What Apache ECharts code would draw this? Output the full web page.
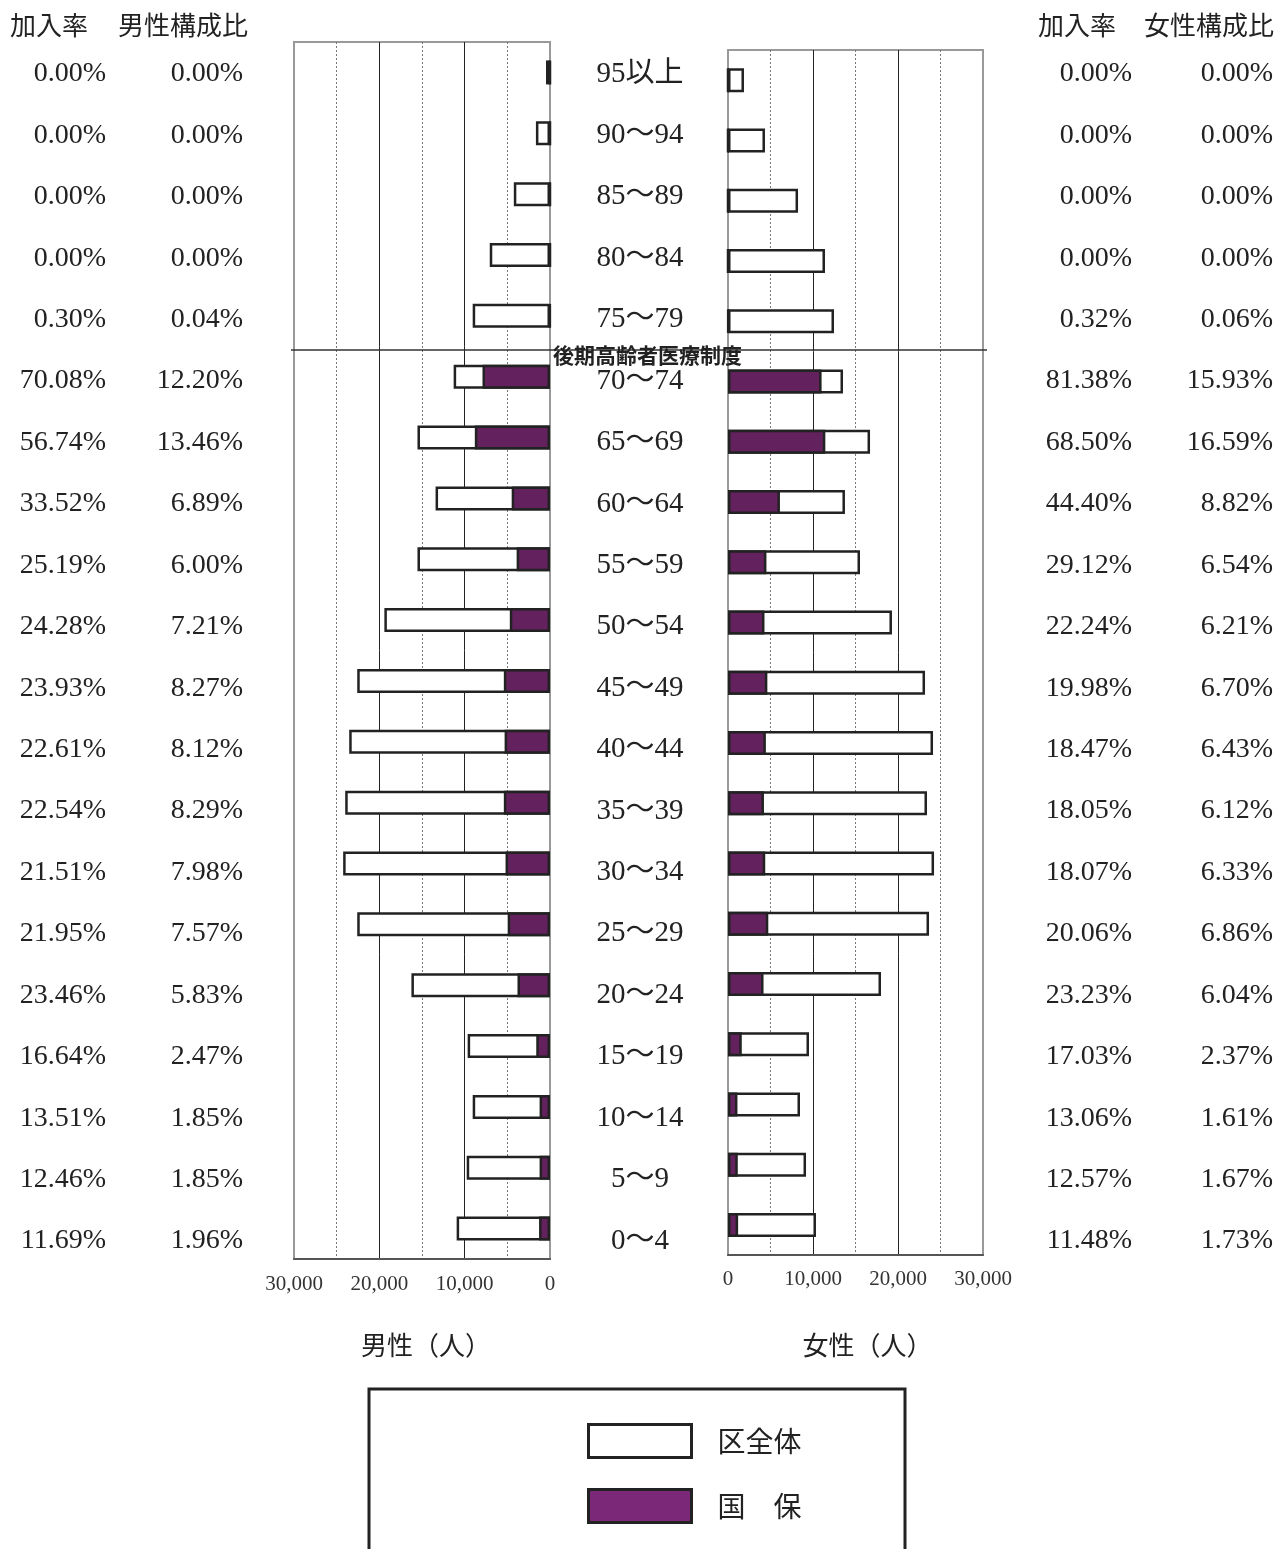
<!DOCTYPE html>
<html><head><meta charset="utf-8">
<script src="https://cdn.jsdelivr.net/npm/echarts@6/dist/echarts.min.js"></script>
<style>html,body{margin:0;padding:0;background:#fff}#c{width:1277px;height:1549px}</style>
</head><body><div id="c"></div>
<script>
const ages = ['95以上','90～94','85～89','80～84','75～79','70～74','65～69','60～64','55～59','50～54','45～49','40～44','35～39','30～34','25～29','20～24','15～19','10～14','5～9','0～4'];
const maleTotal   = [470,1650,4240,7060,9060,11290,15530,13410,15530,19410,22590,23530,24000,24240,22590,16240,9650,9060,9760,10940];
const maleKokuho  = [0,0,0,0,27,7910,8810,4490,3910,4710,5410,5320,5410,5210,4960,3810,1610,1220,1220,1280];
const femaleTotal = [1880,4350,8240,11410,12470,13530,16710,13760,15530,19290,23180,24120,23410,24240,23650,18000,9530,8470,9180,10350];
const femaleKokuho= [0,0,0,0,40,11010,11450,6110,4520,4290,4630,4455,4230,4380,4740,4180,1620,1110,1150,1190];
const maleRate    = ['0.00%','0.00%','0.00%','0.00%','0.30%','70.08%','56.74%','33.52%','25.19%','24.28%','23.93%','22.61%','22.54%','21.51%','21.95%','23.46%','16.64%','13.51%','12.46%','11.69%'];
const maleRatio   = ['0.00%','0.00%','0.00%','0.00%','0.04%','12.20%','13.46%','6.89%','6.00%','7.21%','8.27%','8.12%','8.29%','7.98%','7.57%','5.83%','2.47%','1.85%','1.85%','1.96%'];
const femaleRate  = ['0.00%','0.00%','0.00%','0.00%','0.32%','81.38%','68.50%','44.40%','29.12%','22.24%','19.98%','18.47%','18.05%','18.07%','20.06%','23.23%','17.03%','13.06%','12.57%','11.48%'];
const femaleRatio = ['0.00%','0.00%','0.00%','0.00%','0.06%','15.93%','16.59%','8.82%','6.54%','6.21%','6.70%','6.43%','6.12%','6.33%','6.86%','6.04%','2.37%','1.61%','1.67%','1.73%'];
const xTicks = [0,10000,20000,30000];

const FONT = "'Liberation Serif','Noto Sans CJK JP',serif";
const CJK = "'Noto Sans CJK JP',sans-serif";
const PURPLE = '#63215E';
const TXT = '#222';

function valAxis(grid, inverse, name, gap, margin, shift) {
  return {
    type:'value', gridIndex:grid, inverse:inverse, min:xTicks[0], max:xTicks[xTicks.length-1], interval:10000,
    name:name, nameLocation:'middle', nameGap:gap,
    nameTextStyle:{fontFamily:CJK, fontSize:26, color:TXT, padding:[0,0,0,shift]},
    axisLine:{show:true, onZero:false, lineStyle:{color:'#555', width:2}},
    axisTick:{show:false},
    axisLabel:{show:true, margin:margin, fontFamily:FONT, fontSize:21, color:'#333', showMinLabel:true, showMaxLabel:true,
      formatter:v=>v.toLocaleString('en-US')},
    splitLine:{show:true, showMinLine:false, showMaxLine:false, lineStyle:{color:'#222', width:1}},
    minorTick:{show:false, splitNumber:2},
    minorSplitLine:{show:true, lineStyle:{color:'#777', width:1, type:[2,2]}}
  };
}
function catAxis(grid) {
  return {type:'category', gridIndex:grid, inverse:true, data:ages, show:false};
}
function textAxis(arr, position, offset, align, size) {
  return {
    type:'category', gridIndex:2, inverse:true, data:ages, position:position, offset:offset,
    axisLine:{show:false}, axisTick:{show:false}, splitLine:{show:false},
    axisLabel:{show:true, margin:0, align:align, fontFamily:FONT, fontSize:size||28, color:TXT,
      interval:0, formatter:(v,i)=>arr[i]}
  };
}
function legendBox(name, top) {
  return {
    left:587, top:top, orient:'vertical', padding:0,
    itemWidth:103, itemHeight:33,
    textStyle:{fontFamily:CJK, fontSize:28, color:TXT, padding:[0,0,0,21]},
    itemStyle:{borderWidth:3, borderColor:'#222'},
    data:[{name:name, icon:'rect'}],
    selectedMode:false
  };
}

const chart = echarts.init(document.getElementById('c'));
const lg1 = legendBox('区全体', 1423); lg1.data[0].itemStyle = {color:'#fff'};
const lg2 = legendBox('国　保', 1488); lg2.data[0].itemStyle = {color:'#7B2879'};
chart.setOption({
  animation:false,
  backgroundColor:'#fff',
  grid:[
    {left:294, top:42, width:256, height:1217, show:true, borderColor:'#999', borderWidth:2},
    {left:728, top:50, width:255, height:1205, show:true, borderColor:'#999', borderWidth:2},
    {left:640, top:43.3, width:40, height:1228.4, show:false}
  ],
  xAxis:[
    valAxis(0, true, '男性（人）', 73, 15, 8),
    valAxis(1, false, '女性（人）', 77, 14, 24),
    {type:'value', gridIndex:2, show:false}
  ],
  yAxis:[
    catAxis(0), catAxis(1),
    textAxis(ages, 'left', 0, 'center', 29),
    textAxis(maleRate, 'left', 534, 'right', 28),
    textAxis(maleRatio, 'left', 397, 'right', 28),
    textAxis(femaleRate, 'right', 452, 'right', 28),
    textAxis(femaleRatio, 'right', 593, 'right', 28)
  ],
  legend:[lg1, lg2],
  series:[
    {name:'区全体', type:'bar', xAxisIndex:0, yAxisIndex:0, data:maleTotal, barWidth:24,
      itemStyle:{color:'#fff', borderColor:'#222', borderWidth:2.5}},
    {name:'国　保', type:'bar', xAxisIndex:0, yAxisIndex:0, data:maleKokuho, barWidth:24, barGap:'-100%',
      itemStyle:{color:PURPLE, borderColor:'#222', borderWidth:2.5}},
    {name:'区全体', type:'bar', xAxisIndex:1, yAxisIndex:1, data:femaleTotal, barWidth:24,
      itemStyle:{color:'#fff', borderColor:'#222', borderWidth:2.5}},
    {name:'国　保', type:'bar', xAxisIndex:1, yAxisIndex:1, data:femaleKokuho, barWidth:24, barGap:'-100%',
      itemStyle:{color:PURPLE, borderColor:'#222', borderWidth:2.5}}
  ],
  graphic:[
    {type:'text', left:10, top:12, style:{text:'加入率', font:"26px 'Noto Sans CJK JP'", fill:TXT}},
    {type:'text', left:118, top:12, style:{text:'男性構成比', font:"26px 'Noto Sans CJK JP'", fill:TXT}},
    {type:'text', left:1038, top:12, style:{text:'加入率', font:"26px 'Noto Sans CJK JP'", fill:TXT}},
    {type:'text', left:1144, top:12, style:{text:'女性構成比', font:"26px 'Noto Sans CJK JP'", fill:TXT}},
    {type:'line', shape:{x1:291, y1:350, x2:987, y2:350}, style:{stroke:'#333', lineWidth:1.5}, z:10},
    {type:'text', left:553, top:345, z:11, style:{text:'後期高齢者医療制度', font:"bold 21px 'Noto Sans CJK JP'", fill:TXT}},
    {type:'rect', shape:{x:369, y:1389, width:536, height:220}, style:{fill:'none', stroke:'#222', lineWidth:3}, z:1}
  ]
});
</script></body></html>
